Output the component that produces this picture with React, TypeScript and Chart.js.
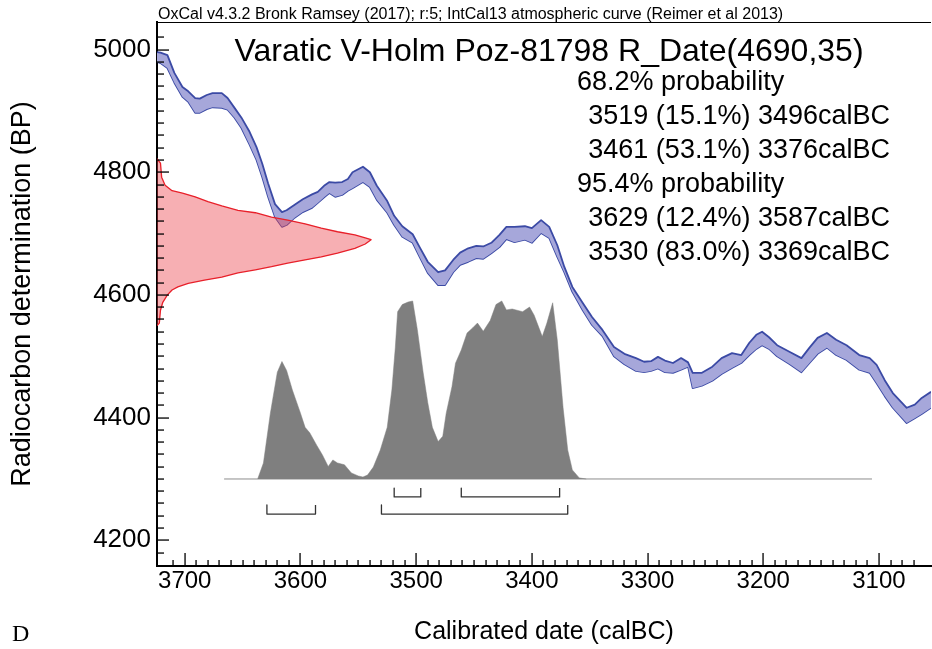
import { useEffect, useRef } from 'react';
import { Chart, registerables } from 'chart.js';

Chart.register(...registerables);

// ---------------- data ----------------
// IntCal13 calibration curve (+/- 1 sigma band), years calBC and BP
const curveYears = [3724, 3721, 3715, 3709, 3702, 3697, 3691, 3687, 3681, 3676, 3668, 3663, 3657, 3651, 3644, 3638, 3633, 3628, 3622, 3616, 3612, 3605, 3598, 3590, 3585, 3579, 3575, 3570, 3564, 3559, 3555, 3546, 3540, 3534, 3525, 3519, 3512, 3503, 3497, 3490, 3481, 3475, 3468, 3462, 3455, 3448, 3442, 3435, 3428, 3422, 3415, 3406, 3400, 3392, 3385, 3378, 3372, 3365, 3356, 3348, 3339, 3329, 3320, 3310, 3303, 3297, 3291, 3285, 3278, 3271, 3265, 3261, 3253, 3244, 3236, 3227, 3219, 3212, 3206, 3201, 3195, 3188, 3177, 3167, 3160, 3153, 3145, 3137, 3128, 3117, 3108, 3102, 3095, 3088, 3076, 3069, 3063, 3055];
const curveUpper = [4996, 4995, 4991, 4962, 4939, 4932, 4921, 4920, 4926, 4929, 4929, 4921, 4905, 4889, 4866, 4841, 4814, 4782, 4748, 4735, 4738, 4747, 4756, 4764, 4768, 4779, 4784, 4783, 4784, 4789, 4800, 4809, 4800, 4778, 4753, 4729, 4712, 4699, 4678, 4654, 4637, 4640, 4657, 4669, 4676, 4680, 4679, 4685, 4698, 4711, 4711, 4712, 4709, 4722, 4711, 4681, 4646, 4613, 4587, 4564, 4543, 4515, 4504, 4497, 4491, 4492, 4499, 4493, 4489, 4497, 4490, 4473, 4473, 4483, 4497, 4505, 4502, 4522, 4535, 4540, 4531, 4518, 4507, 4497, 4514, 4530, 4538, 4527, 4518, 4502, 4497, 4486, 4461, 4440, 4416, 4421, 4432, 4442];
const curveLower = [4980, 4978, 4970, 4946, 4923, 4915, 4897, 4897, 4903, 4906, 4905, 4902, 4889, 4872, 4845, 4820, 4792, 4760, 4727, 4711, 4714, 4726, 4735, 4742, 4750, 4760, 4766, 4760, 4763, 4770, 4774, 4784, 4776, 4755, 4734, 4714, 4695, 4685, 4662, 4636, 4616, 4616, 4637, 4649, 4654, 4660, 4659, 4668, 4678, 4691, 4686, 4690, 4685, 4701, 4693, 4662, 4637, 4605, 4575, 4551, 4533, 4500, 4487, 4476, 4474, 4476, 4480, 4474, 4473, 4478, 4483, 4448, 4452, 4460, 4471, 4481, 4489, 4502, 4512, 4518, 4512, 4500, 4487, 4474, 4489, 4504, 4514, 4502, 4494, 4478, 4473, 4456, 4435, 4416, 4391, 4399, 4406, 4416];

// Radiocarbon measurement likelihood (drawn on the BP axis), outline points
const likelihoodBP = [4822, 4815, 4792, 4779, 4770, 4766, 4760, 4752, 4745, 4738, 4734, 4727, 4722, 4716, 4709, 4703, 4698, 4693, 4690, 4683, 4676, 4668, 4662, 4657, 4652, 4646, 4641, 4636, 4629, 4624, 4619, 4613, 4608, 4600, 4588, 4575, 4554, 4550];
const likelihoodYears = [3724, 3721, 3720, 3717, 3711, 3702, 3691, 3680, 3668, 3654, 3639, 3625, 3611, 3596, 3582, 3568, 3553, 3544, 3539, 3544, 3553, 3568, 3582, 3596, 3611, 3625, 3639, 3654, 3668, 3683, 3697, 3706, 3711, 3715, 3719, 3721, 3722, 3724];

// Calibrated probability distribution (relative)
const probYears = [3637, 3632, 3626, 3620, 3616, 3612, 3607, 3600, 3596, 3592, 3586, 3581, 3576, 3572, 3568, 3562, 3556, 3550, 3546, 3542, 3537, 3531, 3525, 3521, 3518, 3516, 3512, 3507, 3503, 3499, 3494, 3490, 3486, 3481, 3477, 3474, 3469, 3466, 3461, 3456, 3451, 3447, 3442, 3436, 3431, 3426, 3422, 3417, 3408, 3402, 3398, 3391, 3387, 3382, 3378, 3373, 3369, 3365, 3359, 3353];
const probValues = [0, 0.09, 0.37, 0.6, 0.66, 0.61, 0.5, 0.37, 0.29, 0.26, 0.19, 0.135, 0.07, 0.107, 0.09, 0.08, 0.034, 0.017, 0.011, 0.022, 0.067, 0.163, 0.29, 0.5, 0.74, 0.94, 0.98, 0.994, 1.0, 0.84, 0.6, 0.43, 0.29, 0.21, 0.24, 0.37, 0.52, 0.65, 0.725, 0.82, 0.85, 0.876, 0.83, 0.89, 0.98, 1.0, 0.95, 0.955, 0.94, 0.966, 0.92, 0.8, 0.876, 0.99, 0.78, 0.4, 0.163, 0.051, 0.006, 0];
const probSpan = [3666, 3106];

// Calibrated ranges
const range68From = [3519, 3461];
const range68To = [3496, 3376];
const range68Pct = [15.1, 53.1];
const range95From = [3629, 3530];
const range95To = [3587, 3369];
const range95Pct = [12.4, 83.0];

const headerText = 'OxCal v4.3.2 Bronk Ramsey (2017); r:5; IntCal13 atmospheric curve (Reimer et al 2013)';
const titleText = 'Varatic V-Holm Poz-81798 R_Date(4690,35)';
const heading68 = '68.2% probability';
const heading95 = '95.4% probability';
const xAxisTitle = 'Calibrated date (calBC)';
const yAxisTitle = 'Radiocarbon determination (BP)';
const panelLetter = 'D';

// ---------------- styling ----------------
const SANS = "'Liberation Sans', Arial, Helvetica, sans-serif";
const SERIF = "'Liberation Serif', 'Times New Roman', serif";
const BLUE_LINE = '#3b4aa5';
const BLUE_FILL = '#a6a7da';
const RED_LINE = '#e8202a';
const RED_FILL = 'rgba(235,60,70,0.41)';
const GREY = '#7f7f7f';

const rangeLabel = (a: number, p: number, b: number) => `${a} (${p.toFixed(1)}%) ${b}calBC`;

const overlayPlugin = {
  id: 'overlay',
  afterDraw(chart: any) {
    const ctx: CanvasRenderingContext2D = chart.ctx;
    const area = chart.chartArea;
    const xs = chart.scales.x;
    const ys = chart.scales.y;
    ctx.save();
    ctx.globalAlpha = 1;
    ctx.fillStyle = '#000000';
    // top frame line
    ctx.fillRect(area.left, area.top, area.right - area.left, 1);
    // x tick marks (pointing inside)
    for (const t of xs.ticks) {
      const v = Math.round(t.value);
      if (Math.abs(t.value - v) > 1e-6 || v % 10 !== 0) continue;
      const px = Math.round(xs.getPixelForValue(v));
      const len = v % 100 === 0 ? 13 : 6;
      ctx.fillRect(px - 0.6, area.bottom - len, 1.3, len);
    }
    // y tick marks (pointing inside)
    for (const t of ys.ticks) {
      const v = Math.round(t.value);
      if (Math.abs(t.value - v) > 1e-6 || v % 20 !== 0) continue;
      const py = Math.round(ys.getPixelForValue(v));
      const len = v % 200 === 0 ? 12 : 7;
      ctx.fillRect(area.left, py - 0.6, len, 1.3);
    }

    // texts
    ctx.textBaseline = 'alphabetic';
    ctx.font = `16px ${SANS}`;
    ctx.textAlign = 'left';
    ctx.fillText(headerText, 158, 19);

    ctx.font = `32px ${SANS}`;
    ctx.textAlign = 'center';
    ctx.fillText(titleText, 549, 61);

    ctx.font = `27px ${SANS}`;
    const lines: { text: string; head: boolean }[] = [];
    lines.push({ text: heading68, head: true });
    range68From.forEach((a, i) => lines.push({ text: rangeLabel(a, range68Pct[i], range68To[i]), head: false }));
    lines.push({ text: heading95, head: true });
    range95From.forEach((a, i) => lines.push({ text: rangeLabel(a, range95Pct[i], range95To[i]), head: false }));
    lines.forEach((ln, i) => {
      const y = 90 + i * 34;
      if (ln.head) {
        ctx.textAlign = 'left';
        ctx.fillText(ln.text, 577, y);
      } else {
        ctx.textAlign = 'right';
        ctx.fillText(ln.text, 890, y);
      }
    });

    ctx.font = `24px ${SERIF}`;
    ctx.textAlign = 'left';
    ctx.fillText(panelLetter, 12, 641);
    ctx.restore();
  },
};

function bracket(from: number, to: number, topV: number, botV: number) {
  return {
    data: [
      { x: from, y: topV },
      { x: from, y: botV },
      { x: to, y: botV },
      { x: to, y: topV },
    ],
    yAxisID: 'yp',
    borderColor: '#333333',
    borderWidth: 1.3,
    fill: false,
    pointRadius: 0,
  };
}

export default function App() {
  const ref = useRef<HTMLCanvasElement | null>(null);

  useEffect(() => {
    document.body.style.margin = '0';
    const canvas = ref.current;
    if (!canvas) return;

    const upper = curveYears.map((x, i) => ({ x, y: curveUpper[i] })).reverse();
    const lower = curveYears.map((x, i) => ({ x, y: curveLower[i] })).reverse();
    const likelihood = likelihoodBP.map((y, i) => ({ x: likelihoodYears[i], y }));
    const prob = probYears.map((x, i) => ({ x, y: probValues[i] })).reverse();

    const chart = new Chart(canvas, {
      type: 'line',
      data: {
        datasets: [
          {
            label: 'likelihood',
            data: likelihood,
            borderColor: RED_LINE,
            borderWidth: 1.3,
            backgroundColor: RED_FILL,
            fill: 'shape',
            pointRadius: 0,
            yAxisID: 'y',
          } as any,
          {
            label: 'curve upper',
            data: upper,
            borderColor: BLUE_LINE,
            borderWidth: 1.8,
            backgroundColor: BLUE_FILL,
            fill: '+1',
            pointRadius: 0,
            yAxisID: 'y',
          },
          {
            label: 'curve lower',
            data: lower,
            borderColor: BLUE_LINE,
            borderWidth: 1.8,
            fill: false,
            pointRadius: 0,
            yAxisID: 'y',
          },
          {
            label: 'posterior',
            data: prob,
            borderColor: GREY,
            borderWidth: 0.5,
            backgroundColor: GREY,
            fill: 'origin',
            pointRadius: 0,
            yAxisID: 'yp',
          },
          {
            label: 'baseline',
            data: [
              { x: probSpan[0], y: 0 },
              { x: probSpan[1], y: 0 },
            ],
            borderColor: '#8c8c8c',
            borderWidth: 1,
            fill: false,
            pointRadius: 0,
            yAxisID: 'yp',
          },
          ...range68From.map((a, i) => bracket(a, range68To[i], -0.051, -0.101)),
          ...range95From.map((a, i) => bracket(a, range95To[i], -0.146, -0.197)),
        ] as any,
      },
      options: {
        responsive: false,
        animation: false,
        events: [],
        layout: { padding: { top: 22, left: 0, right: 0, bottom: 0 } },
        plugins: {
          legend: { display: false },
          tooltip: { enabled: false },
          title: { display: false },
        },
        elements: { line: { tension: 0, borderJoinStyle: 'round' }, point: { radius: 0 } },
        scales: {
          x: {
            type: 'linear',
            reverse: true,
            min: 3055,
            max: 3724,
            grid: { display: false, drawTicks: false },
            border: { display: true, color: '#000', width: 2 },
            ticks: {
              stepSize: 10,
              autoSkip: false,
              maxRotation: 0,
              minRotation: 0,
              padding: 1,
              color: '#000',
              font: { family: SANS, size: 24 },
              callback: (v: any) => (Math.round(v) % 100 === 0 ? String(Math.round(v)) : ''),
            },
            title: {
              display: true,
              text: xAxisTitle,
              color: '#000',
              font: { family: SANS, size: 25 },
              padding: { top: 0, bottom: 2 },
            },
            afterFit: (s: any) => {
              s.height = 83;
            },
          },
          y: {
            type: 'linear',
            position: 'left',
            min: 4158,
            max: 5045,
            grid: { display: false, drawTicks: false },
            border: { display: true, color: '#000', width: 2 },
            ticks: {
              stepSize: 20,
              autoSkip: false,
              padding: 6,
              color: '#000',
              font: { family: SANS, size: 26 },
              callback: (v: any) => (Math.round(v) % 200 === 0 ? String(Math.round(v)) : ''),
            },
            title: {
              display: true,
              text: yAxisTitle,
              color: '#000',
              font: { family: SANS, size: 27 },
              padding: { top: 6, bottom: 0 },
            },
            afterFit: (s: any) => {
              s.width = 157;
            },
          },
          yp: {
            type: 'linear',
            axis: 'y',
            display: false,
            min: -0.4888,
            max: 2.5674,
          },
        },
      } as any,
      plugins: [overlayPlugin],
    });

    return () => chart.destroy();
  }, []);

  return (
    <div style={{ width: 932, height: 649 }}>
      <canvas ref={ref} width={932} height={649} style={{ display: 'block' }} />
    </div>
  );
}
